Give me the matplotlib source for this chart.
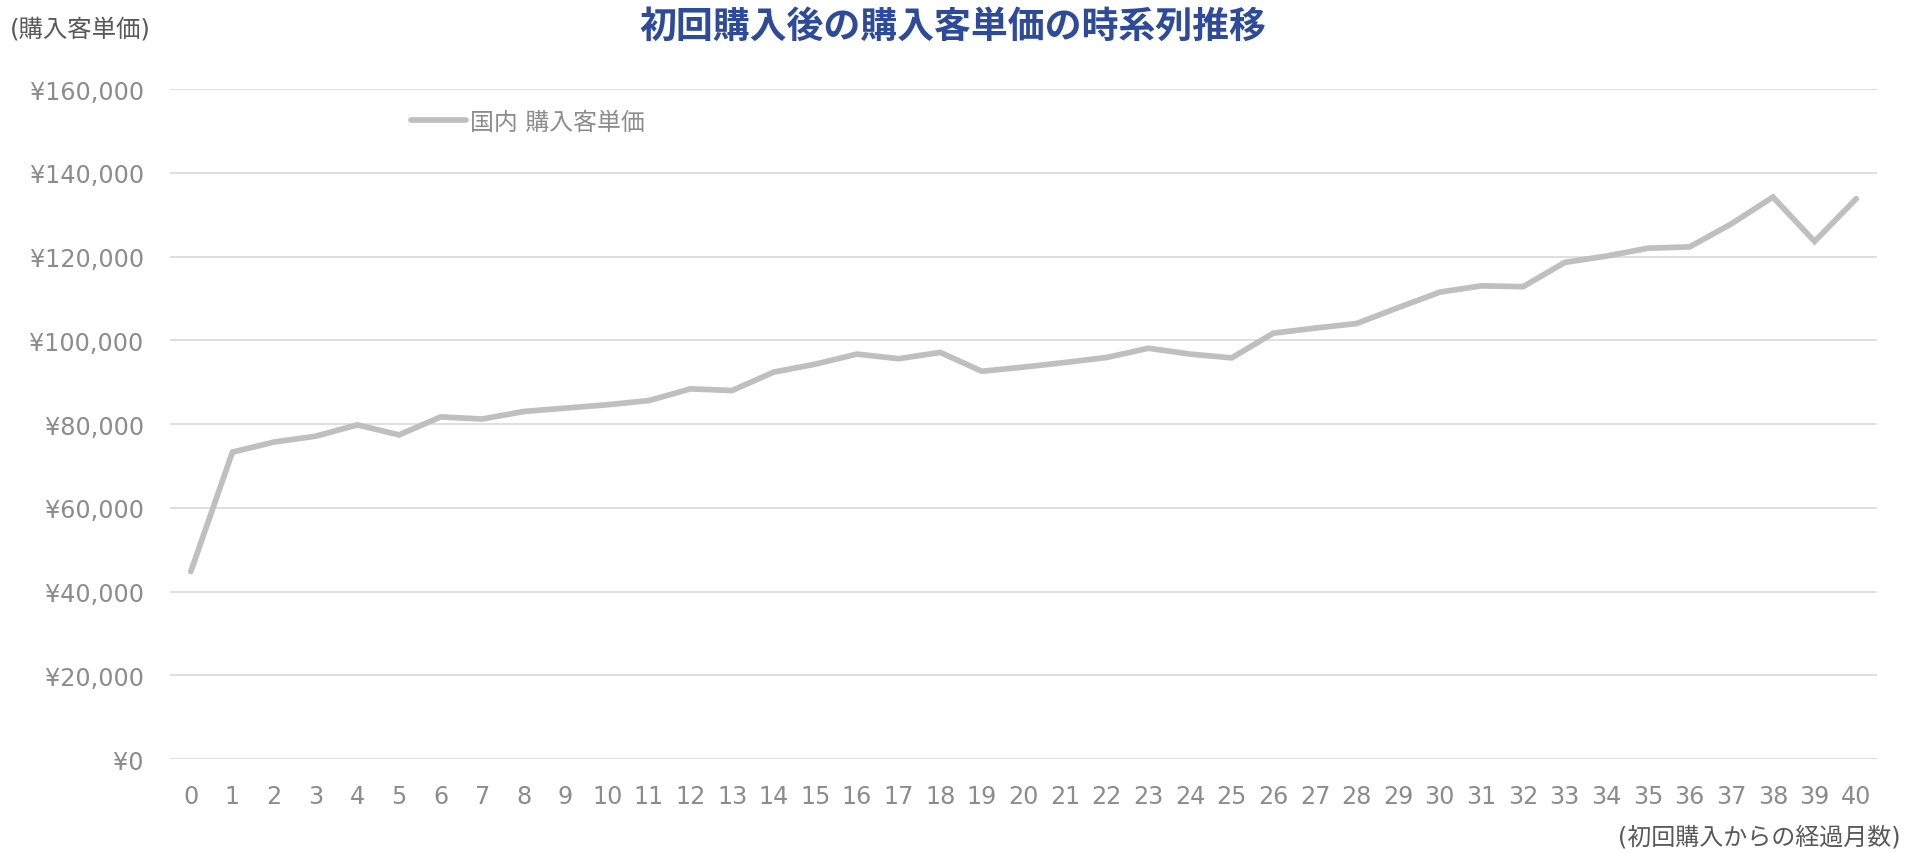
import matplotlib
matplotlib.use("Agg")
import matplotlib.pyplot as plt
from matplotlib.ticker import FuncFormatter

# months since first purchase and average spend per buyer (JPY)
MONTHS = list(range(0, 41))
UNIT_PRICE = [
    44800, 73300, 75700, 77100, 79800, 77400, 81700, 81200, 83000, 83800,
    84600, 85600, 88400, 88000, 92400, 94300, 96700, 95600, 97100, 92600,
    93600, 94700, 95900, 98100, 96700, 95800, 101700, 102900, 104000, 107800,
    111500, 113000, 112800, 118600, 120100, 122000, 122300, 127800, 134200, 123600,
    133800,
]
SERIES_NAME = "国内 購入客単価"
TITLE = "初回購入後の購入客単価の時系列推移"
Y_LABEL = "(購入客単価)"
X_LABEL = "(初回購入からの経過月数)"
Y_TICKS = list(range(0, 160001, 20000))

TITLE_COLOR = "#2E4A9B"
LINE_COLOR = "#BFBFBF"
GRID_COLOR = "#D9D9D9"
TICK_COLOR = "#8C8C8C"
LABEL_COLOR = "#595959"

plt.rcParams["font.family"] = ["DejaVu Sans", "Noto Sans CJK JP"]


def main():
    fig = plt.figure(figsize=(19.06, 8.54), dpi=100)
    ax = fig.add_axes([0.0892, 0.110, 0.8956, 0.7846])

    ax.plot(MONTHS, UNIT_PRICE, color=LINE_COLOR, lw=4.1,
            solid_capstyle="round", solid_joinstyle="miter", label=SERIES_NAME)

    ax.set_xlim(-0.5, 40.5)
    ax.set_ylim(0, 160000)
    ax.set_yticks(Y_TICKS)
    ax.set_xticks(MONTHS)
    ax.yaxis.set_major_formatter(FuncFormatter(lambda v, p: f"¥{int(v):,}"))
    ax.grid(axis="y", color=GRID_COLOR, lw=1.2)
    ax.set_axisbelow(True)
    for s in ax.spines.values():
        s.set_visible(False)
    ax.tick_params(axis="both", length=0, labelsize=17.2, labelcolor=TICK_COLOR)
    ax.tick_params(axis="y", pad=19)
    ax.tick_params(axis="x", pad=18)

    leg = ax.legend(loc="center left", bbox_to_anchor=(0.141, 0.951), frameon=False,
                    borderpad=0, borderaxespad=0, handlelength=2.3, handletextpad=0.2,
                    prop={"size": 17.2})
    for t in leg.get_texts():
        t.set_color(TICK_COLOR)

    fig.text(0.5, 0.968, TITLE, ha="center", va="center", fontsize=26.6,
             fontweight="bold", color=TITLE_COLOR)
    fig.text(0.005, 0.965, Y_LABEL, ha="left", va="center", fontsize=17.6, color=LABEL_COLOR)
    fig.text(0.997, 0.019, X_LABEL, ha="right", va="center", fontsize=17.3, color=LABEL_COLOR)

    fig.savefig("out.png", dpi=100)
    plt.close(fig)


if __name__ == "__main__":
    main()
